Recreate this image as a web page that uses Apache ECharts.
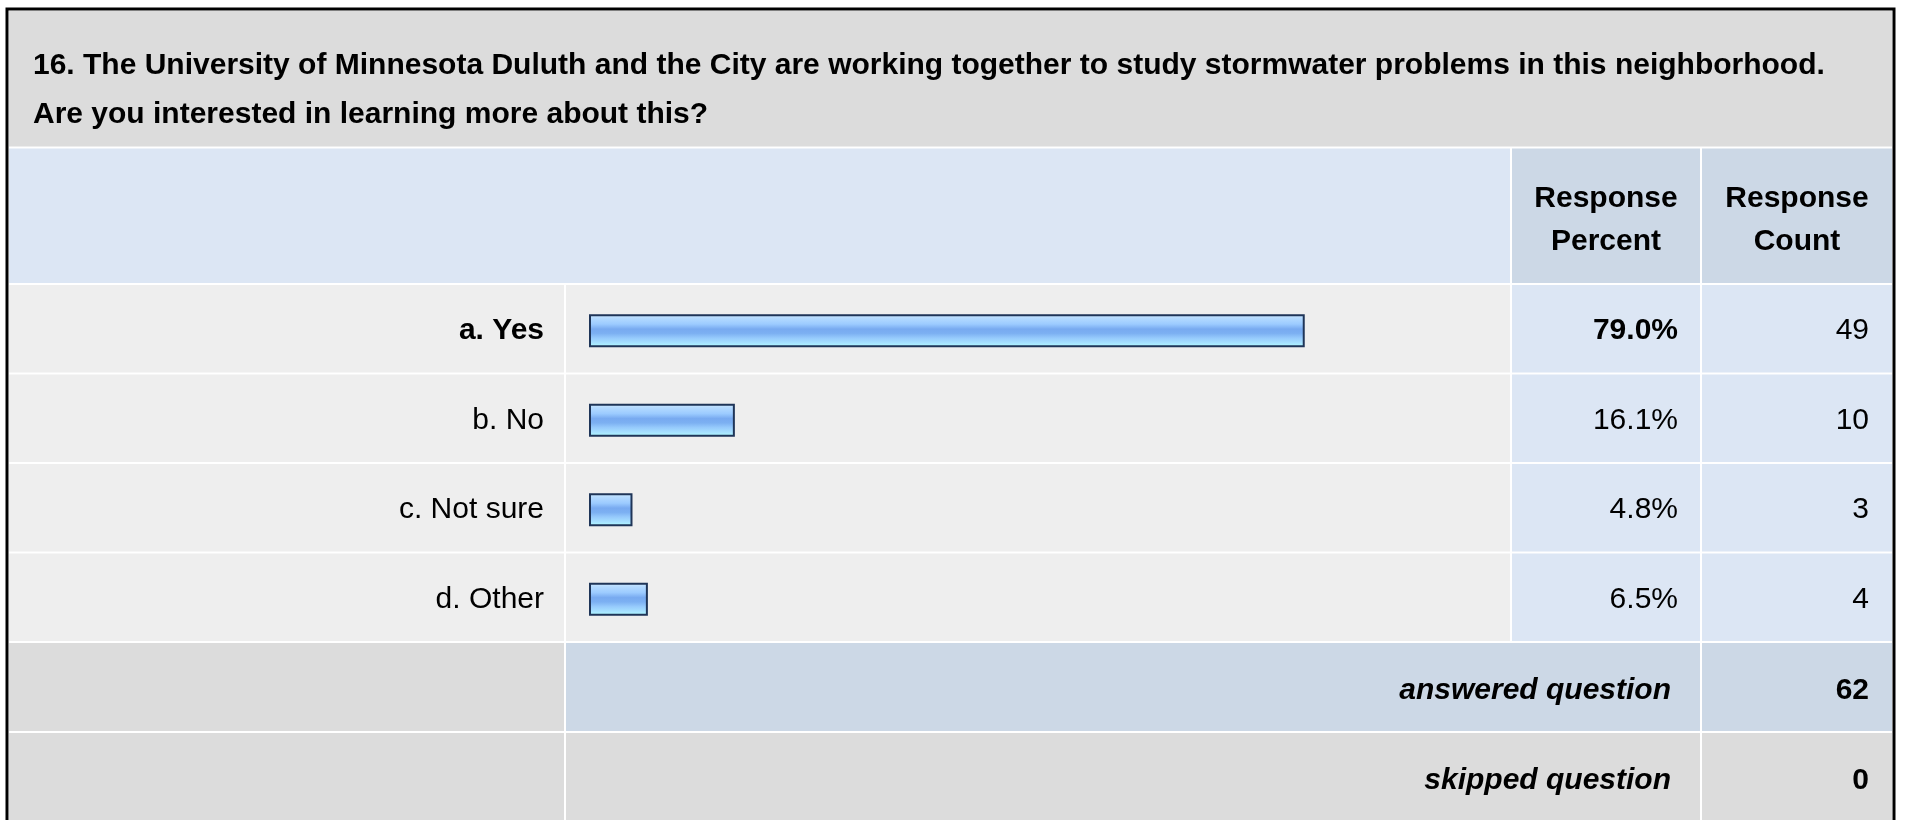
<!DOCTYPE html>
<html>
<head>
<meta charset="utf-8">
<script src="https://cdn.jsdelivr.net/npm/echarts@6/dist/echarts.min.js"></script>
<style>
  html, body { margin: 0; padding: 0; background: #ffffff; }
  #chart { width: 1907px; height: 820px; }
</style>
</head>
<body>
<div id="chart"></div>
<script>
// ---- data ----
const titleLines = [
  '16. The University of Minnesota Duluth and the City are working together to study stormwater problems in this neighborhood.',
  'Are you interested in learning more about this?'
];
const categories = ['a. Yes', 'b. No', 'c. Not sure', 'd. Other'];
const responsePercent = [79.0, 16.1, 4.8, 6.5];
const responseCount = [49, 10, 3, 4];
const headerPercent = 'Response\nPercent';
const headerCount = 'Response\nCount';
const answeredLabel = 'answered question';
const answeredCount = 62;
const skippedLabel = 'skipped question';
const skippedCount = 0;

// ---- layout ----
const FONT = '"Liberation Sans", Arial, sans-serif';
const maxIdx = responsePercent.indexOf(Math.max.apply(null, responsePercent));
const X0 = 9, XL = 564, XB = 566, XBE = 1510, XP = 1512, XPE = 1700, XC = 1702, XCE = 1892;
const rowStep = 89.5, gridTop = 286;

const C_GRAY = '#dcdcdc', C_ROW = '#eeeeee', C_LB = '#dce6f4', C_MB = '#ccd8e6';

const rects = [];
function rect(x1, y1, x2, y2, c) {
  rects.push({ type: 'rect', z: -10, silent: true,
    shape: { x: x1, y: y1, width: x2 - x1, height: y2 - y1 }, style: { fill: c } });
}
// title
rect(X0, 11, XCE, 146.5, C_GRAY);
// header
rect(X0, 148.5, XBE, 283, C_LB);
rect(XP, 148.5, XPE, 283, C_MB);
rect(XC, 148.5, XCE, 283, C_MB);
// data rows
for (let i = 0; i < categories.length; i++) {
  const t = 285 + i * rowStep, b = t + rowStep - 2;
  rect(X0, t, XL, b, C_ROW);
  rect(XB, t, XBE, b, C_ROW);
  rect(XP, t, XPE, b, C_LB);
  rect(XC, t, XCE, b, C_LB);
}
// answered / skipped
rect(X0, 643, XL, 731, C_GRAY);
rect(XB, 643, XPE, 731, C_MB);
rect(XC, 643, XCE, 731, C_MB);
rect(X0, 733, XL, 830, C_GRAY);
rect(XB, 733, XPE, 830, C_GRAY);
rect(XC, 733, XCE, 830, C_GRAY);

function txt(t, x, y, font, align, lh) {
  return { type: 'text', z: 10, silent: true,
    style: { text: t, x: x, y: y, font: font, fill: '#000',
      align: align, textAlign: align, verticalAlign: 'middle', textVerticalAlign: 'middle', lineHeight: lh || 43 } };
}
const texts = [
  txt(titleLines[0], 33, 66, 'bold 30px ' + FONT, 'left'),
  txt(titleLines[1], 33, 115, 'bold 30px ' + FONT, 'left'),
  txt(headerPercent, (XP + XPE) / 2, 220, 'bold 30px ' + FONT, 'center', 43),
  txt(headerCount, (XC + XCE) / 2, 220, 'bold 30px ' + FONT, 'center', 43),
  txt(answeredLabel, 1671, 691, 'italic bold 30px ' + FONT, 'right'),
  txt(String(answeredCount), 1869, 691, 'bold 30px ' + FONT, 'right'),
  txt(skippedLabel, 1671, 781, 'italic bold 30px ' + FONT, 'right'),
  txt(String(skippedCount), 1869, 781, 'bold 30px ' + FONT, 'right'),
  { type: 'rect', z: 20, silent: true,
    shape: { x: 7, y: 9, width: 1887, height: 900 },
    style: { fill: 'none', stroke: '#000', lineWidth: 3 } }
];

const labelBase = { fontSize: 30, fontFamily: FONT, color: '#000' };
const rich = { b: { fontSize: 30, fontFamily: FONT, fontWeight: 'bold', color: '#000' },
               n: { fontSize: 30, fontFamily: FONT, color: '#000' } };
function catAxis(position, margin, align, fmt, boldMax) {
  return {
    type: 'category', data: categories, inverse: true, position: position, z: 10,
    axisLine: { show: false }, axisTick: { show: false }, splitLine: { show: false },
    axisLabel: Object.assign({}, labelBase, { margin: margin, align: align, rich: rich,
      formatter: function (v, i) { return ((boldMax && i === maxIdx) ? '{b|' : '{n|') + fmt(v, i) + '}'; } })
  };
}

const chart = echarts.init(document.getElementById('chart'));
chart.setOption({
  animation: false,
  backgroundColor: '#ffffff',
  grid: { left: 589, top: gridTop, width: 906, height: rowStep * categories.length, containLabel: false },
  xAxis: { type: 'value', min: 0, max: 100, show: false },
  yAxis: [
    catAxis('left', 45, 'right', function (v) { return v; }, true),
    catAxis('right', 183, 'right', function (v, i) { return responsePercent[i].toFixed(1) + '%'; }, true),
    catAxis('right', 374, 'right', function (v, i) { return String(responseCount[i]); }, false)
  ],
  series: [{
    type: 'bar', yAxisIndex: 0, data: responsePercent, barWidth: 33, z: 5,
    itemStyle: {
      borderColor: '#1f3558', borderWidth: 2,
      color: { type: 'linear', x: 0, y: 0, x2: 0, y2: 1, colorStops: [
        { offset: 0, color: '#d4ecff' },
        { offset: 0.12, color: '#b4daff' },
        { offset: 0.3, color: '#9ccbff' },
        { offset: 0.45, color: '#78aaf0' },
        { offset: 0.58, color: '#7cb0f2' },
        { offset: 0.72, color: '#96cafc' },
        { offset: 0.86, color: '#a6e0ff' },
        { offset: 1, color: '#b2ffff' }
      ] }
    }
  }],
  graphic: rects.concat(texts)
});
</script>
</body>
</html>
